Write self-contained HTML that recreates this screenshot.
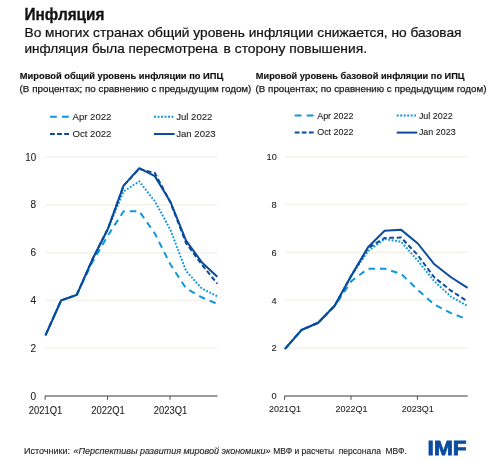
<!DOCTYPE html>
<html><head><meta charset="utf-8">
<style>
html,body{margin:0;padding:0;background:#fff;width:490px;height:460px;overflow:hidden}
svg{display:block;will-change:transform}
text{font-family:"Liberation Sans",sans-serif;}
.t1{font-size:15.9px;font-weight:bold;fill:#111;stroke:#111;stroke-width:0.3px}
.t2{font-size:13.4px;fill:#111;stroke:#111;stroke-width:0.22px}
.ct{font-size:9.7px;font-weight:bold;fill:#111;stroke:#111;stroke-width:0.15px}
.cs{font-size:9.7px;fill:#1a1a1a;stroke:#1a1a1a;stroke-width:0.25px}
.lg{font-size:9.6px;fill:#222;stroke:#222;stroke-width:0.1px}
.ax{font-size:9.4px;fill:#202020;stroke:#202020;stroke-width:0.08px}
.ft{font-size:9.4px;fill:#262626;stroke:#262626;stroke-width:0.15px}
.imf{font-size:21px;font-weight:bold;fill:#0a4ca0}
</style></head><body>
<svg width="490" height="460" viewBox="0 0 490 460">
<text x="24.5" y="19.5" class="t1" textLength="80" lengthAdjust="spacingAndGlyphs">Инфляция</text>
<text x="24.5" y="37.2" class="t2" textLength="437" lengthAdjust="spacingAndGlyphs">Во многих странах общий уровень инфляции снижается, но базовая</text>
<text x="24.5" y="52.7" class="t2" textLength="193.3" lengthAdjust="spacingAndGlyphs">инфляция была пересмотрена</text>
<text x="223.6" y="52.7" class="t2" textLength="143.4" lengthAdjust="spacingAndGlyphs">в сторону повышения.</text>
<text x="19.8" y="79" class="ct" textLength="203.5" lengthAdjust="spacingAndGlyphs">Мировой общий уровень инфляции по ИПЦ</text>
<text x="19.6" y="91.5" class="cs" textLength="231.8" lengthAdjust="spacingAndGlyphs">(В процентах; по сравнению с предыдущим годом)</text>
<text x="255.8" y="79" class="ct" textLength="208.8" lengthAdjust="spacingAndGlyphs">Мировой уровень базовой инфляции по ИПЦ</text>
<text x="255.6" y="91.5" class="cs" textLength="230.8" lengthAdjust="spacingAndGlyphs">(В процентах; по сравнению с предыдущим годом)</text>
<line x1="50" y1="116.8" x2="69" y2="116.8" stroke="#0e98dc" stroke-width="2" stroke-dasharray="6.8,5.2"/>
<line x1="50" y1="134" x2="69" y2="134" stroke="#0a4b9b" stroke-width="2" stroke-dasharray="4.8,2.3"/>
<line x1="154" y1="116.8" x2="173.3" y2="116.8" stroke="#0e98dc" stroke-width="2" stroke-dasharray="2,1.5"/>
<line x1="154" y1="134" x2="174.6" y2="134" stroke="#0a4b9b" stroke-width="2"/>
<text x="72.5" y="120" class="lg" style="font-size:9.60px">Apr 2022</text>
<text x="72.5" y="136.8" class="lg" style="font-size:9.60px">Oct 2022</text>
<text x="176.2" y="120" class="lg" style="font-size:9.60px">Jul 2022</text>
<text x="176.2" y="136.8" class="lg" style="font-size:9.60px">Jan 2023</text>
<line x1="294.7" y1="115.39999999999999" x2="313.7" y2="115.39999999999999" stroke="#0e98dc" stroke-width="2" stroke-dasharray="6.8,5.2"/>
<line x1="294.7" y1="132.6" x2="313.7" y2="132.6" stroke="#0a4b9b" stroke-width="2" stroke-dasharray="4.8,2.3"/>
<line x1="396.7" y1="115.39999999999999" x2="416.0" y2="115.39999999999999" stroke="#0e98dc" stroke-width="2" stroke-dasharray="2,1.5"/>
<line x1="396.7" y1="132.6" x2="417.29999999999995" y2="132.6" stroke="#0a4b9b" stroke-width="2"/>
<text x="317.2" y="118.6" class="lg" style="font-size:8.93px">Apr 2022</text>
<text x="317.2" y="135.4" class="lg" style="font-size:8.93px">Oct 2022</text>
<text x="418.9" y="118.6" class="lg" style="font-size:8.93px">Jul 2022</text>
<text x="418.9" y="135.4" class="lg" style="font-size:8.93px">Jan 2023</text>
<line x1="45.5" y1="348.20" x2="217.5" y2="348.20" stroke="#f4f2ec" stroke-width="1.6"/>
<line x1="45.5" y1="300.40" x2="217.5" y2="300.40" stroke="#f4f2ec" stroke-width="1.6"/>
<line x1="45.5" y1="252.60" x2="217.5" y2="252.60" stroke="#f4f2ec" stroke-width="1.6"/>
<line x1="45.5" y1="204.80" x2="217.5" y2="204.80" stroke="#f4f2ec" stroke-width="1.6"/>
<line x1="45.5" y1="157.00" x2="217.5" y2="157.00" stroke="#f4f2ec" stroke-width="1.6"/>
<line x1="45.0" y1="396.00" x2="217.5" y2="396.00" stroke="#7a7a7a" stroke-width="1.3"/>
<line x1="45.10" y1="396.00" x2="45.10" y2="399.80" stroke="#505050" stroke-width="1"/>
<line x1="107.58" y1="396.00" x2="107.58" y2="399.80" stroke="#505050" stroke-width="1"/>
<line x1="170.06" y1="396.00" x2="170.06" y2="399.80" stroke="#505050" stroke-width="1"/>
<text x="36.2" y="399.60" text-anchor="end" class="ax" style="font-size:10.4px" textLength="5.6" lengthAdjust="spacingAndGlyphs">0</text>
<text x="36.2" y="351.80" text-anchor="end" class="ax" style="font-size:10.4px" textLength="5.6" lengthAdjust="spacingAndGlyphs">2</text>
<text x="36.2" y="304.00" text-anchor="end" class="ax" style="font-size:10.4px" textLength="5.6" lengthAdjust="spacingAndGlyphs">4</text>
<text x="36.2" y="256.20" text-anchor="end" class="ax" style="font-size:10.4px" textLength="5.6" lengthAdjust="spacingAndGlyphs">6</text>
<text x="36.2" y="208.40" text-anchor="end" class="ax" style="font-size:10.4px" textLength="5.6" lengthAdjust="spacingAndGlyphs">8</text>
<text x="36.2" y="160.60" text-anchor="end" class="ax" style="font-size:10.4px" textLength="10.9" lengthAdjust="spacingAndGlyphs">10</text>
<text x="45.50" y="413.9" text-anchor="middle" class="ax" style="font-size:10.0px" textLength="33.5" lengthAdjust="spacingAndGlyphs">2021Q1</text>
<text x="107.98" y="413.9" text-anchor="middle" class="ax" style="font-size:10.0px" textLength="33.5" lengthAdjust="spacingAndGlyphs">2022Q1</text>
<text x="170.46" y="413.9" text-anchor="middle" class="ax" style="font-size:10.0px" textLength="33.5" lengthAdjust="spacingAndGlyphs">2023Q1</text>
<path d="M45.50,335.29 L61.12,300.40 L76.74,294.90 L92.36,262.16 L107.98,235.39 L123.60,211.25 L139.22,211.25 L154.84,233.48 L170.46,264.55 L186.08,288.45 L201.70,297.29 L217.32,303.99" fill="none" stroke="#0e98dc" stroke-width="2" stroke-dasharray="6.5,5" stroke-dashoffset="4" stroke-linejoin="round"/>
<path d="M45.50,335.29 L61.12,300.40 L76.74,294.90 L92.36,259.53 L107.98,228.70 L123.60,191.42 L139.22,181.38 L154.84,201.22 L170.46,229.90 L186.08,271.00 L201.70,288.45 L217.32,296.34" fill="none" stroke="#0e98dc" stroke-width="2" stroke-dasharray="1.8,1.65" stroke-dashoffset="0" stroke-linejoin="round"/>
<path d="M45.50,335.29 L61.12,300.40 L76.74,294.90 L92.36,259.53 L107.98,228.70 L123.60,185.68 L139.22,168.95 L154.84,173.01 L170.46,202.41 L186.08,243.04 L201.70,264.55 L217.32,283.67" fill="none" stroke="#0a4b9b" stroke-width="2" stroke-dasharray="4.8,2.7" stroke-dashoffset="-2" stroke-linejoin="round"/>
<path d="M45.50,335.29 L61.12,300.40 L76.74,294.90 L92.36,259.53 L107.98,228.70 L123.60,185.68 L139.22,168.23 L154.84,176.12 L170.46,201.93 L186.08,240.65 L201.70,262.16 L217.32,276.74" fill="none" stroke="#0a4b9b" stroke-width="2" stroke-dashoffset="0" stroke-linejoin="round"/>
<line x1="285.0" y1="348.12" x2="467.7" y2="348.12" stroke="#f4f2ec" stroke-width="1.6"/>
<line x1="285.0" y1="300.24" x2="467.7" y2="300.24" stroke="#f4f2ec" stroke-width="1.6"/>
<line x1="285.0" y1="252.36" x2="467.7" y2="252.36" stroke="#f4f2ec" stroke-width="1.6"/>
<line x1="285.0" y1="204.48" x2="467.7" y2="204.48" stroke="#f4f2ec" stroke-width="1.6"/>
<line x1="285.0" y1="156.60" x2="467.7" y2="156.60" stroke="#f4f2ec" stroke-width="1.6"/>
<line x1="284.5" y1="396.00" x2="467.7" y2="396.00" stroke="#7a7a7a" stroke-width="1.3"/>
<line x1="284.60" y1="396.00" x2="284.60" y2="399.80" stroke="#505050" stroke-width="1"/>
<line x1="351.00" y1="396.00" x2="351.00" y2="399.80" stroke="#505050" stroke-width="1"/>
<line x1="417.40" y1="396.00" x2="417.40" y2="399.80" stroke="#505050" stroke-width="1"/>
<text x="276.8" y="399.30" text-anchor="end" class="ax" style="font-size:9.6px" textLength="5.2" lengthAdjust="spacingAndGlyphs">0</text>
<text x="276.8" y="351.42" text-anchor="end" class="ax" style="font-size:9.6px" textLength="5.2" lengthAdjust="spacingAndGlyphs">2</text>
<text x="276.8" y="303.54" text-anchor="end" class="ax" style="font-size:9.6px" textLength="5.2" lengthAdjust="spacingAndGlyphs">4</text>
<text x="276.8" y="255.66" text-anchor="end" class="ax" style="font-size:9.6px" textLength="5.2" lengthAdjust="spacingAndGlyphs">6</text>
<text x="276.8" y="207.78" text-anchor="end" class="ax" style="font-size:9.6px" textLength="5.2" lengthAdjust="spacingAndGlyphs">8</text>
<text x="276.8" y="159.90" text-anchor="end" class="ax" style="font-size:9.6px" textLength="10.2" lengthAdjust="spacingAndGlyphs">10</text>
<text x="285.00" y="412.4" text-anchor="middle" class="ax" style="font-size:9.2px" textLength="32.0" lengthAdjust="spacingAndGlyphs">2021Q1</text>
<text x="351.40" y="412.4" text-anchor="middle" class="ax" style="font-size:9.2px" textLength="32.0" lengthAdjust="spacingAndGlyphs">2022Q1</text>
<text x="417.80" y="412.4" text-anchor="middle" class="ax" style="font-size:9.2px" textLength="32.0" lengthAdjust="spacingAndGlyphs">2023Q1</text>
<path d="M285.00,348.84 L301.60,329.93 L318.20,322.74 L334.80,305.99 L351.40,281.09 L368.00,268.64 L384.60,268.64 L401.20,273.91 L417.80,289.95 L434.40,304.55 L451.00,313.17 L467.60,319.39" fill="none" stroke="#0e98dc" stroke-width="2" stroke-dasharray="6.5,5" stroke-dashoffset="-3" stroke-linejoin="round"/>
<path d="M285.00,348.84 L301.60,329.93 L318.20,322.74 L334.80,305.51 L351.40,275.58 L368.00,251.16 L384.60,238.95 L401.20,241.83 L417.80,260.74 L434.40,281.33 L451.00,296.65 L467.60,305.99" fill="none" stroke="#0e98dc" stroke-width="2" stroke-dasharray="1.8,1.65" stroke-dashoffset="0" stroke-linejoin="round"/>
<path d="M285.00,348.84 L301.60,329.93 L318.20,322.74 L334.80,305.51 L351.40,275.58 L368.00,248.29 L384.60,238.00 L401.20,237.52 L417.80,255.23 L434.40,277.50 L451.00,290.66 L467.60,301.44" fill="none" stroke="#0a4b9b" stroke-width="2" stroke-dasharray="4.8,2.7" stroke-dashoffset="0" stroke-linejoin="round"/>
<path d="M285.00,348.84 L301.60,329.93 L318.20,322.74 L334.80,305.51 L351.40,275.58 L368.00,247.33 L384.60,230.81 L401.20,229.86 L417.80,243.50 L434.40,264.33 L451.00,277.26 L467.60,287.79" fill="none" stroke="#0a4b9b" stroke-width="2" stroke-dashoffset="0" stroke-linejoin="round"/>
<text x="24" y="453.5" class="ft" textLength="46" lengthAdjust="spacingAndGlyphs">Источники:</text>
<text x="73.5" y="453.5" class="ft" font-style="italic" textLength="197" lengthAdjust="spacingAndGlyphs">«Перспективы развития мировой экономики»</text>
<text x="273.3" y="453.5" class="ft" style="white-space:pre" textLength="133.5" lengthAdjust="spacingAndGlyphs">МВФ и расчеты  персонала  МВФ.</text>
<text x="427.6" y="455.1" class="imf" textLength="39" lengthAdjust="spacingAndGlyphs" stroke="#0a4ca0" stroke-width="0.8">IMF</text>
</svg>
</body></html>
